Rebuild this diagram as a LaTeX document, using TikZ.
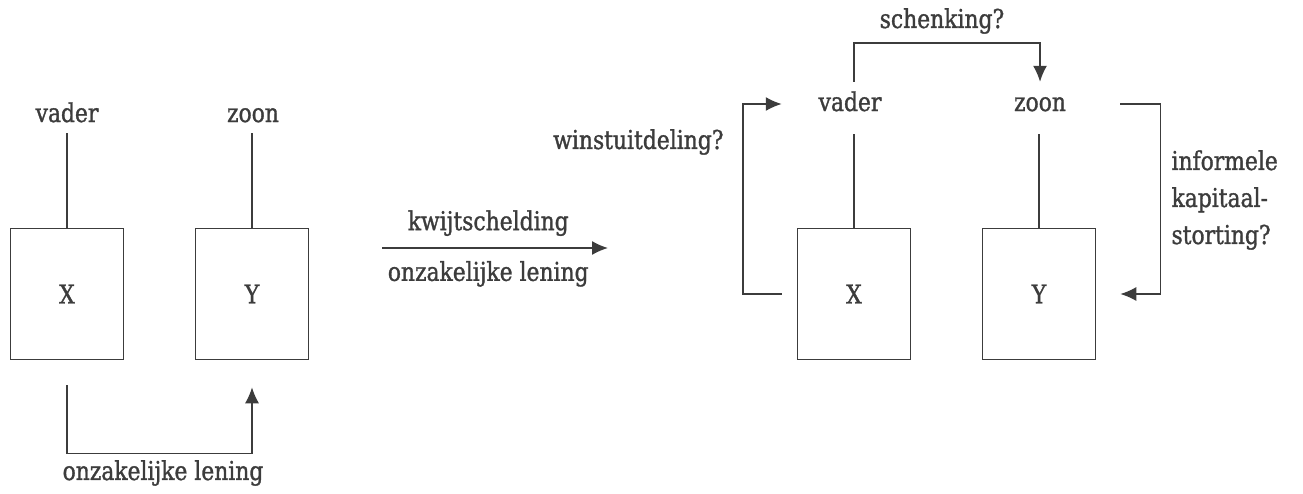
\documentclass[tikz,border=0pt]{standalone}
\usepackage{fontspec}
\setmainfont[FakeStretch=0.84, FakeBold=1.2]{DejaVu Serif}
\usetikzlibrary{arrows.meta}
\definecolor{ink}{RGB}{60,60,60}

\begin{document}
\begin{tikzpicture}[x=1pt, y=-1pt,
        every node/.style={text=ink, font=\fontsize{26}{37}\selectfont},
        party/.style={draw=ink, line width=1.5pt, minimum width=113pt, minimum height=131pt},
        who/.style={inner sep=0pt, text height=19pt, text depth=5pt},
        stem/.style={draw=ink, line width=1.5pt},
        arrow/.style={-{Latex[length=16pt,width=14pt]}, draw=ink, line width=1.5pt}
    ]
        \useasboundingbox (0,0) rectangle (1303,493);

        % before
        \node[party] (xl) at (67,294) {X};
        \node[party] (yl) at (252,294) {Y};
        \node[who] (vl) at (67,115) {vader};
        \node[who] (zl) at (253,115) {zoon};
        \draw[stem, shorten >=6pt] (xl.north) -- (xl.north |- vl.south);
        \draw[stem, shorten >=6pt] (yl.north) -- (yl.north |- zl.south);
        \draw[arrow, shorten <=25pt, shorten >=27pt] (xl.south) -- ++(0,93) -| (yl.south);
        \node (ll) at (163,473) {onzakelijke lening};

        % transition
        \coordinate (ms) at (382,248);
        \coordinate (me) at (608,248);
        \draw[arrow] (ms) -- node[pos=0.47, above=8pt] {kwijtschelding}
            node[pos=0.47, below=9pt] {onzakelijke lening} (me);

        % after
        \node[party] (xr) at (854,294) {X};
        \node[party] (yr) at (1039,294) {Y};
        \node[who] (vr) at (850,104) {vader};
        \node[who] (zr) at (1040,104) {zoon};
        \draw[stem, shorten >=18pt] (xr.north) -- (xr.north |- vr.south);
        \draw[stem, shorten >=18pt] (yr.north) -- (yr.north |- zr.south);
        \draw[arrow, shorten <=10pt, shorten >=10pt] (xr.north |- vr.north) -- ++(0,-49) -| (zr.north);
        \node (sk) at (942,21) {schenking?};
        \draw[arrow, shorten <=15pt, shorten >=15pt] (xr.west) -- ++(-54,0) |- (xr.west |- vr.west);
        \node[anchor=east] (wu) at (727,142) {winstuitdeling?};
        \draw[arrow, shorten >=24pt] (yr.east |- zr.east) ++(24,0) -- ++(40,0) |- (yr.east);
        \node[anchor=west, align=left] (ik) at (1168,200) {informele\\kapitaal-\\storting?};
    \end{tikzpicture}
\end{document}
